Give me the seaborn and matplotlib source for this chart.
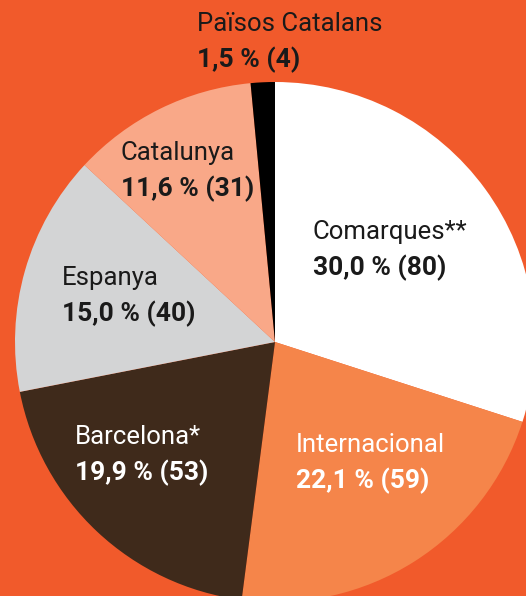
import numpy as np
import pandas as pd
import matplotlib
matplotlib.use("Agg")
import matplotlib.pyplot as plt
import seaborn as sns

# slices, clockwise from the top
categories = ["Comarques**", "Internacional", "Barcelona*", "Espanya", "Catalunya", "Països Catalans"]
percents = [30.0, 22.1, 19.9, 15.0, 11.6, 1.5]
counts = [80, 59, 53, 40, 31, 4]

colors = ["#FFFFFF", "#F5854A", "#3F2A1B", "#D3D4D5", "#F9A888", "#000000"]
text_colors = ["#1A1A1A", "#FFFFFF", "#FFFFFF", "#1A1A1A", "#1A1A1A", "#1A1A1A"]
# label anchor (left x, top y) in pixel space, y measured from top
label_pos = [(313, 220), (296, 433), (75, 425), (62, 266), (121, 141), (197, 12)]

bg = "#F15A2B"
sns.set_style("white")
plt.rcParams['font.family'] = ['Roboto', 'DejaVu Sans']

W, H = 526, 596
fig = plt.figure(figsize=(W / 100, H / 100), dpi=100, facecolor=bg)
ax = fig.add_axes([0, 0, 1, 1])
ax.set_facecolor(bg)

ax.pie(percents, colors=colors, startangle=90, counterclock=False,
       center=(275, H - 342), radius=260, wedgeprops=dict(linewidth=0))
ax.set_xlim(0, W)
ax.set_ylim(0, H)
ax.set_aspect("equal")
ax.axis("off")

for cat, p, n, tc, (x, y) in zip(categories, percents, counts, text_colors, label_pos):
    val = f"{p:.1f}".replace(".", ",") + f" % ({n})"
    ax.text(x, H - y, cat, color=tc, fontsize=18.5, va="top", ha="left")
    ax.text(x, H - y - 35, val, color=tc, fontsize=19, fontweight="bold", va="top", ha="left")

fig.savefig("out.png", dpi=100, facecolor=bg)
